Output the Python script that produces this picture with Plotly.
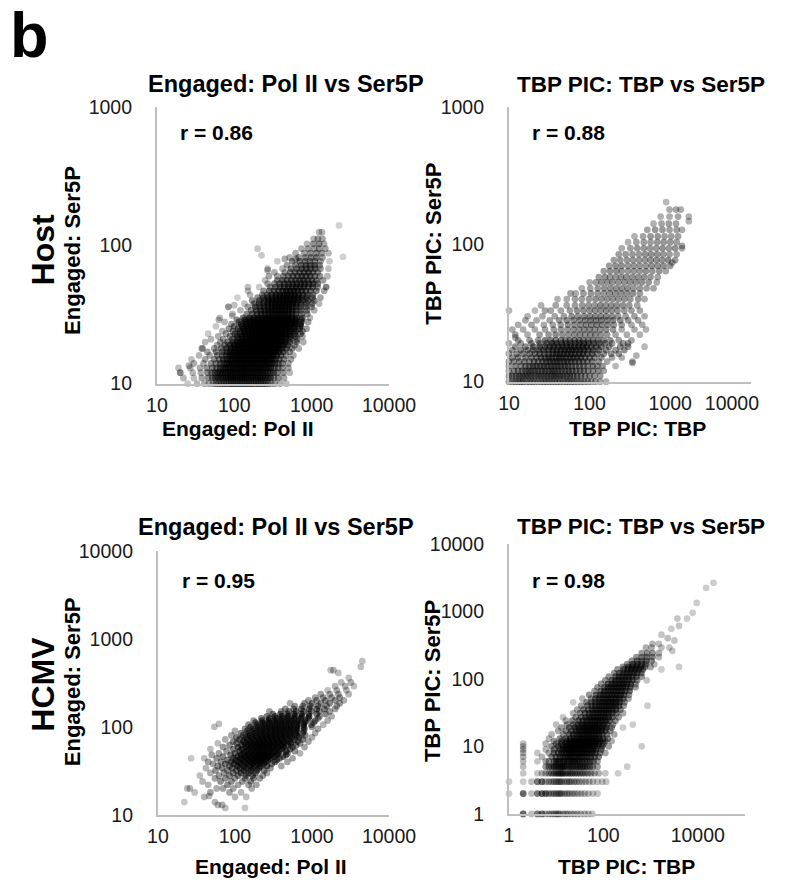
import numpy as np
import plotly.graph_objects as go

# Positions below are given in pixels of the final 794 x 884 picture; the page places the
# 808 x 880 figure inside the body margin and reduces it, so they are mapped back here.
FIG_W, FIG_H = 808, 880
FONT = "Liberation Sans, Arial, sans-serif"

# ---------------- Host: Engaged Pol II (x) vs Engaged Ser5P (y) ----------------
host_eng_levels = [10, 11, 12, 13, 14, 15, 16, 17, 18, 19, 20, 21, 22, 23, 24, 25, 26, 27, 28, 29,
                   30, 32, 34, 36, 38, 40, 42, 44, 47, 50, 53, 56, 60, 64, 68, 72, 77, 82, 88, 95,
                   103, 112, 125, 140]
host_eng_polii = [
    [25, 33, 41, 47, 53, 58, 63, 68, 73, 79, 85, 91, 97, 104, 111, 119, 127, 136, 145, 155, 166, 178, 191, 205, 220, 236, 254, 275, 300, 335, 390, 470],
    [22, 30, 38, 46, 52, 57, 62, 67, 72, 78, 84, 90, 96, 103, 110, 118, 126, 134, 143, 153, 164, 176, 189, 203, 218, 234, 252, 272, 296, 325, 370, 440],
    [20, 29, 37, 45, 51, 56, 61, 66, 71, 77, 83, 89, 95, 102, 109, 117, 125, 133, 142, 152, 163, 175, 188, 202, 217, 233, 251, 271, 295, 322, 360, 430, 520],
    [19, 27, 36, 44, 52, 59, 66, 72, 78, 84, 90, 97, 104, 112, 120, 128, 137, 147, 157, 168, 180, 193, 207, 222, 238, 256, 276, 300, 330, 370, 420, 500],
    [30, 40, 50, 58, 66, 73, 80, 87, 94, 101, 109, 117, 125, 134, 143, 153, 164, 175, 187, 200, 214, 229, 245, 263, 283, 306, 335, 372, 420, 500],
    [28, 42, 55, 64, 72, 80, 88, 95, 103, 111, 119, 128, 137, 146, 156, 167, 178, 190, 203, 217, 232, 248, 266, 286, 310, 340, 380, 440, 540],
    [35, 48, 60, 70, 79, 87, 95, 103, 111, 120, 129, 138, 148, 158, 169, 181, 194, 208, 223, 239, 256, 275, 297, 322, 355, 400, 470, 580],
    [45, 58, 70, 80, 89, 98, 107, 116, 125, 135, 145, 156, 167, 179, 192, 206, 221, 237, 254, 273, 294, 318, 346, 380, 430, 520],
    [38, 55, 68, 80, 91, 101, 111, 121, 131, 142, 153, 165, 178, 191, 205, 220, 236, 253, 272, 293, 316, 342, 372, 410, 470, 560, 680],
    [60, 75, 88, 100, 111, 122, 133, 144, 156, 169, 182, 196, 211, 227, 244, 262, 282, 304, 328, 355, 388, 430, 490, 600],
    [42, 66, 82, 96, 109, 121, 133, 145, 158, 172, 186, 201, 217, 234, 252, 272, 293, 316, 342, 372, 408, 455, 520, 640, 780],
    [50, 72, 95, 112, 128, 143, 158, 174, 190, 207, 225, 244, 265, 288, 313, 340, 372, 410, 460, 540, 650],
    [62, 88, 108, 125, 141, 157, 173, 190, 208, 227, 247, 268, 291, 316, 344, 376, 415, 465, 530, 620, 760],
    [46, 78, 102, 120, 137, 153, 169, 186, 204, 223, 243, 264, 287, 312, 340, 371, 408, 455, 515, 600, 720],
    [70, 96, 117, 135, 152, 169, 187, 206, 226, 247, 270, 294, 320, 349, 382, 420, 468, 530, 620, 760],
    [85, 112, 132, 150, 168, 186, 205, 225, 246, 268, 292, 318, 346, 378, 414, 458, 512, 590, 700, 860],
    [58, 100, 126, 146, 165, 184, 204, 225, 247, 270, 295, 322, 351, 384, 421, 465, 520, 600, 720],
    [92, 122, 144, 164, 184, 205, 227, 250, 274, 300, 328, 358, 392, 430, 476, 534, 610, 720],
    [75, 115, 140, 161, 182, 204, 227, 251, 276, 303, 332, 364, 399, 438, 484, 542, 620, 740, 900],
    [108, 136, 158, 180, 203, 227, 252, 278, 306, 336, 368, 403, 443, 490, 548, 625, 740],
    [65, 130, 156, 179, 203, 228, 254, 281, 310, 341, 374, 410, 451, 499, 558, 640, 760, 950],
    [95, 145, 172, 197, 223, 250, 278, 308, 340, 374, 411, 452, 500, 557, 630, 740, 880],
    [120, 165, 192, 219, 247, 276, 307, 340, 375, 413, 455, 503, 560, 632, 730, 870, 1080],
    [84, 150, 186, 214, 243, 273, 305, 339, 375, 414, 457, 505, 562, 630, 720, 850, 1000],
    [135, 180, 210, 240, 272, 305, 340, 377, 417, 461, 510, 568, 636, 725, 850, 1020, 1250],
    [170, 210, 243, 277, 312, 350, 390, 433, 480, 533, 595, 670, 770, 900, 1080],
    [110, 200, 235, 270, 306, 345, 386, 430, 478, 531, 592, 663, 750, 870, 1030, 1300],
    [160, 230, 268, 306, 346, 389, 435, 485, 540, 603, 676, 765, 880, 1040],
    [150, 240, 285, 328, 373, 421, 472, 528, 590, 660, 742, 842, 970, 1150, 1450],
    [210, 290, 340, 390, 443, 500, 562, 630, 707, 795, 900, 1030, 1200, 1540],
    [270, 330, 385, 442, 503, 568, 640, 720, 810, 915, 1040, 1200],
    [250, 360, 420, 482, 548, 620, 700, 790, 890, 1010, 1160, 1400],
    [280, 360, 430, 500, 575, 655, 745, 845, 960, 1100, 1280, 1600],
    [330, 450, 530, 610, 700, 800, 910, 1040, 1200],
    [270, 420, 540, 640, 740, 850, 970, 1110, 1300, 1650],
    [480, 620, 730, 840, 960, 1100, 1270],
    [360, 560, 700, 820, 950, 1100, 1300, 1700],
    [520, 680, 830, 980, 1150, 1380],
    [620, 800, 960, 1150, 1350, 1650],
    [200, 740, 900, 1080, 1250, 1500],
    [870, 1050, 1250, 1450],
    [1060, 1200, 1380],
    [1250, 1360],
    [2260],
]
host_eng_extra_polii = [225, 2540, 150, 100, 84, 63, 94, 39, 270, 450, 625, 1540, 26, 20]
host_eng_extra_ser5p = [85, 83, 50, 37, 36, 29, 31, 18, 66, 80, 80, 50, 13.5, 12]

# ---------------- Host: TBP PIC TBP (x) vs TBP PIC Ser5P (y) ----------------
host_tbp_levels = [10, 11, 12, 13, 14, 15, 16, 17, 18, 19, 20, 22, 24, 26, 28, 30, 33, 36, 40, 44,
                   48, 53, 58, 64, 70, 77, 85, 94, 104, 115, 128, 142, 160, 180, 204]
host_tbp_tbp = [
    [10, 11, 12, 13, 14, 15, 16.5, 18, 19.5, 21, 23, 25, 27, 29, 31.5, 34, 37, 40, 43, 47, 51, 55, 60, 65, 71, 78, 86, 95, 105, 118, 135, 160],
    [10, 11, 12.2, 13.4, 14.7, 16, 17.5, 19, 21, 23, 25, 27.5, 30, 33, 36, 39, 43, 47, 52, 57, 63, 70, 78, 88, 100, 115, 135],
    [10, 11.5, 13, 14.5, 16, 17.5, 19, 21, 23, 25.5, 28, 31, 34, 37, 41, 45, 50, 55, 61, 68, 76, 85, 96, 110, 128, 150],
    [10, 12, 14, 16, 18, 20, 22, 24.5, 27, 30, 33, 36.5, 40, 44, 49, 54, 60, 67, 75, 84, 95, 110, 125, 145, 210],
    [10, 11.5, 13.5, 15.5, 18, 20.5, 23, 26, 29, 32, 35.5, 39, 43, 48, 53, 59, 66, 74, 83, 94, 108, 130, 165, 340],
    [11, 13, 16, 19, 22, 25, 28, 31, 34, 38, 42, 46, 51, 57, 63, 70, 78, 88, 100, 115, 140, 190, 250],
    [10, 12.5, 15, 18, 21, 24, 27.5, 31, 35, 39, 43, 48, 53, 59, 66, 74, 83, 94, 108, 125, 150, 185, 230],
    [11, 14, 17, 20, 23.5, 27, 31, 35, 39, 44, 49, 55, 61, 68, 76, 85, 96, 110, 130, 160, 210, 270],
    [12, 16, 20, 24, 28, 32, 36, 41, 46, 52, 58, 65, 73, 82, 92, 105, 120, 140, 175, 240, 300],
    [10, 14, 19, 24, 29, 34, 39, 45, 51, 58, 66, 75, 85, 97, 112, 130, 155, 190, 260],
    [13, 18, 23, 28, 33, 38, 44, 50, 57, 65, 74, 84, 96, 110, 128, 150, 180, 230, 330],
    [12, 17, 24, 31, 38, 46, 55, 65, 76, 88, 102, 118, 138, 165, 210, 290, 420],
    [11, 15, 21, 28, 36, 44, 53, 63, 74, 86, 100, 116, 135, 160, 195, 250, 360, 500],
    [13, 19, 27, 35, 44, 54, 65, 77, 90, 105, 122, 142, 168, 200, 250, 330, 450],
    [16, 22, 32, 42, 52, 63, 75, 88, 103, 120, 140, 165, 195, 240, 300, 400],
    [17, 26, 37, 48, 60, 72, 86, 101, 118, 138, 161, 190, 225, 280, 360, 480],
    [10, 21, 28, 33, 44, 57, 70, 84, 100, 117, 137, 160, 188, 222, 270, 330, 420],
    [25, 38, 52, 66, 81, 97, 115, 135, 158, 185, 217, 258, 310, 390],
    [40, 52, 66, 80, 98, 118, 140, 165, 194, 228, 270, 320, 400, 480],
    [58, 67, 84, 104, 126, 150, 177, 208, 245, 290, 345, 420],
    [80, 102, 126, 152, 181, 214, 252, 296, 350, 420, 510, 620],
    [100, 120, 140, 165, 192, 228, 270, 318, 375, 445, 540, 680],
    [130, 155, 180, 210, 245, 285, 338, 400, 475, 570, 700],
    [150, 180, 215, 250, 300, 355, 420, 500, 600, 730, 880],
    [175, 210, 250, 300, 355, 420, 500, 590, 700, 830, 1000],
    [200, 240, 290, 345, 410, 485, 570, 670, 790, 940, 1150],
    [230, 280, 340, 410, 490, 580, 690, 820, 980, 1200],
    [250, 320, 390, 470, 560, 670, 800, 960, 1150, 1400],
    [300, 380, 470, 570, 690, 830, 1000, 1200],
    [360, 460, 570, 700, 850, 1030, 1250],
    [520, 650, 800, 980, 1200, 1400],
    [620, 780, 960, 1180],
    [760, 980, 1250, 1700],
    [980, 1180, 1350],
    [890],
]
host_tbp_extra_tbp = [12, 380, 340, 480, 300, 1700, 1400, 1060]
host_tbp_extra_ser5p = [21, 15.5, 13.7, 18, 19, 148, 98, 74]

# ---------------- HCMV: Engaged Pol II (x) vs Engaged Ser5P (y) ----------------
hcmv_eng_levels = [12, 13, 14, 16, 18, 20, 22, 24, 26, 28, 30, 32, 34, 36, 38, 40, 42, 44, 46, 48,
                   50, 53, 56, 59, 62, 65, 68, 72, 76, 80, 85, 90, 95, 100, 106, 112, 118, 125, 132, 140,
                   150, 160, 172, 185, 200, 215, 235, 260, 290, 320, 360, 410, 440, 480, 560]
hcmv_eng_polii = [
    [75, 135],
    [60, 68],
    [22, 55],
    [40, 100, 140],
    [30, 48, 85, 120],
    [26, 58, 70, 95, 165],
    [45, 80, 110, 150, 190],
    [38, 65, 90, 125, 160],
    [55, 75, 100, 135, 175, 210],
    [35, 62, 85, 110, 140, 170, 230],
    [48, 72, 95, 120, 150, 185, 260],
    [56, 80, 105, 130, 160, 195, 240],
    [42, 68, 92, 115, 140, 170, 205, 290],
    [60, 85, 108, 130, 155, 180, 215, 260, 400],
    [52, 75, 98, 120, 145, 170, 200, 235, 300],
    [45, 66, 90, 112, 135, 160, 185, 215, 250, 330, 480],
    [80, 102, 125, 150, 175, 200, 230, 270, 350],
    [40, 58, 95, 118, 140, 165, 190, 218, 250, 290, 380, 560],
    [70, 108, 132, 155, 180, 205, 235, 270, 320, 420],
    [50, 88, 120, 145, 170, 195, 222, 255, 295, 350, 460],
    [62, 100, 130, 155, 180, 205, 232, 265, 305, 360, 480, 700],
    [78, 115, 140, 165, 190, 215, 245, 280, 320, 375, 460, 600],
    [48, 95, 125, 150, 175, 200, 228, 260, 300, 345, 410, 520],
    [70, 110, 138, 162, 187, 213, 242, 275, 315, 365, 430, 560, 800],
    [85, 122, 148, 173, 200, 228, 260, 298, 345, 400, 480, 620],
    [60, 105, 135, 160, 186, 213, 243, 278, 320, 370, 435, 530, 700],
    [95, 128, 155, 182, 210, 240, 275, 316, 365, 425, 510, 650, 900],
    [75, 115, 145, 172, 200, 230, 264, 304, 350, 405, 480, 590, 760],
    [105, 138, 165, 194, 224, 258, 297, 342, 395, 460, 550, 680, 1000],
    [90, 128, 158, 188, 220, 254, 293, 338, 390, 452, 530, 640, 820],
    [120, 152, 183, 215, 250, 290, 335, 388, 450, 525, 620, 760, 1100],
    [100, 145, 178, 212, 248, 288, 334, 388, 452, 530, 630, 780],
    [135, 172, 208, 246, 288, 336, 392, 458, 538, 640, 800, 1200],
    [160, 200, 240, 283, 332, 388, 455, 535, 635, 780, 1000],
    [150, 195, 236, 280, 330, 388, 456, 538, 640, 780, 980, 1400],
    [185, 230, 276, 328, 388, 458, 543, 650, 800, 1050],
    [175, 225, 275, 330, 392, 465, 555, 670, 830, 1100, 1600],
    [220, 280, 340, 408, 490, 590, 720, 900, 1200],
    [260, 330, 405, 490, 600, 740, 920, 1250, 1800],
    [310, 390, 480, 590, 730, 910, 1150, 1500],
    [280, 400, 500, 620, 780, 980, 1250, 1700],
    [450, 580, 730, 920, 1150, 1450, 2000],
    [600, 760, 950, 1200, 1550, 2100],
    [520, 800, 1000, 1300, 1700, 2300],
    [900, 1150, 1500, 2000, 2600],
    [1100, 1400, 1800, 2300],
    [1300, 1700, 2200, 3000],
    [1600, 2100, 2800],
    [2000, 2700, 3500],
    [2400, 3200],
    [3000],
    [2200],
    [1750, 1900],
    [4300],
    [4500],
]
hcmv_eng_extra_polii = [62, 54, 27, 46, 24]
hcmv_eng_extra_ser5p = [108, 100, 44, 16.4, 20]

# ---------------- HCMV: TBP PIC TBP (x) vs TBP PIC Ser5P (y) ----------------
hcmv_tbp_levels = [1, 2, 3, 4, 5, 6, 7, 8, 9, 10, 11, 12, 13, 15, 17, 19, 21, 24, 27, 31,
                   35, 40, 45, 51, 58, 66, 75, 84, 95, 108, 122, 138, 150, 165, 185, 210, 240, 260, 290, 330,
                   370, 400, 450, 550, 610, 780, 950, 1330, 2230, 2640]
hcmv_tbp_tbp = [
    [2, 2, 2, 3, 4, 4, 5, 5, 6, 7, 8, 9, 10, 11, 12, 14, 16, 18, 21, 24, 28, 33, 40, 48, 58],
    [1, 2, 2, 2, 3, 4, 4, 5, 5, 6, 6, 7, 8, 9, 10, 11, 12, 13, 15, 17, 19, 22, 25, 29, 34, 40, 48, 60, 75],
    [1, 2, 3, 4, 4, 5, 5, 6, 7, 8, 9, 10, 11, 12, 13, 15, 17, 19, 21, 24, 27, 31, 36, 42, 50, 60, 75, 95, 115],
    [2, 4, 5, 6, 7, 8, 9, 10, 11, 12, 13, 14, 16, 18, 20, 22, 25, 28, 32, 36, 41, 47, 55, 65, 80, 110, 205],
    [2, 6, 7, 8, 9, 10, 11, 12, 13, 14, 15, 17, 19, 21, 23, 26, 29, 32, 36, 40, 45, 52, 60, 75, 320],
    [2, 4, 6, 7, 9, 10, 11, 12, 14, 15, 17, 19, 21, 23, 25, 28, 31, 35, 40, 46, 53, 62, 75],
    [2, 5, 8, 10, 12, 14, 16, 18, 20, 22, 25, 28, 31, 35, 40, 46, 54, 65, 80],
    [2, 4, 7, 9, 11, 13, 15, 17, 19, 21, 23, 26, 29, 32, 36, 40, 45, 51, 58, 68, 85, 110],
    [2, 6, 9, 12, 14, 16, 18, 20, 22, 24, 27, 30, 33, 37, 41, 46, 52, 60, 70, 90],
    [2, 8, 11, 14, 16, 18, 20, 22, 24, 27, 30, 33, 36, 40, 45, 50, 56, 64, 75, 95, 130, 650],
    [2, 6, 10, 13, 16, 19, 22, 25, 28, 31, 34, 38, 42, 47, 53, 60, 68, 80, 100],
    [9, 13, 17, 20, 23, 26, 29, 32, 36, 40, 45, 50, 56, 63, 72, 85, 110, 150],
    [7, 12, 16, 20, 24, 28, 32, 36, 40, 45, 50, 56, 63, 71, 82, 98, 125],
    [8, 14, 19, 23, 27, 31, 35, 39, 44, 49, 55, 62, 70, 80, 95, 120, 170],
    [11, 16, 21, 26, 31, 35, 40, 45, 50, 56, 63, 71, 80, 92, 110, 140],
    [13, 19, 25, 30, 35, 40, 45, 51, 57, 64, 72, 82, 95, 115, 150, 260],
    [10, 17, 23, 29, 35, 40, 46, 52, 59, 66, 75, 86, 100, 120, 160, 420],
    [16, 22, 30, 37, 44, 51, 58, 66, 75, 85, 97, 112, 135, 180],
    [14, 26, 34, 42, 50, 58, 66, 75, 85, 97, 110, 128, 155, 210],
    [23, 32, 41, 50, 59, 68, 78, 89, 101, 115, 132, 155, 190, 260],
    [28, 38, 48, 58, 68, 79, 90, 103, 117, 134, 155, 185, 230],
    [34, 46, 57, 68, 80, 92, 106, 121, 138, 158, 182, 215, 270, 860],
    [23, 44, 56, 68, 81, 94, 108, 124, 142, 162, 186, 220, 280],
    [36, 55, 68, 82, 96, 111, 127, 145, 166, 190, 220, 265, 340],
    [50, 70, 85, 100, 116, 134, 154, 176, 200, 232, 275, 350],
    [65, 88, 105, 123, 142, 163, 187, 214, 246, 290, 360],
    [75, 105, 125, 146, 169, 195, 224, 258, 300, 370, 480],
    [90, 125, 150, 175, 203, 234, 270, 315, 380, 480],
    [110, 150, 180, 212, 248, 290, 340, 410, 520, 830],
    [130, 180, 215, 252, 295, 345, 410, 500, 650],
    [170, 220, 265, 312, 368, 435, 520, 640],
    [200, 270, 330, 395, 470, 560, 680, 1700],
    [260, 340, 410, 500, 620, 760, 1000, 4000],
    [320, 420, 520, 650, 800, 1200],
    [400, 520, 650, 820, 1050],
    [500, 650, 830, 1100, 1500],
    [650, 850, 1100, 1500],
    [2900],
    [800, 1050, 1700, 2500],
    [1100, 1500],
    [3200],
    [2300],
    [1700],
    [2750],
    [4000],
    [3700, 5900],
    [7800],
    [9500],
    [15000],
    [21500],
]


def flatten(levels, rows, extra_x=(), extra_y=()):
    xs, ys = [], []
    for level, row in zip(levels, rows):
        xs.extend(row)
        ys.extend([level] * len(row))
    xs.extend(extra_x)
    ys.extend(extra_y)
    return xs, ys


def px_x(v):
    return (157 + 1.058 * (v - 159)) / FIG_W


def px_y(v):
    return 1 - (101 + (v - 109) / 0.9744) / FIG_H


def overlap_alpha(xs, ys, x_px_per_dec, y_px_per_dec, base, gain, cap, radius=8.0):
    """Darken markers where many fall on top of each other (screen-space neighbour count)."""
    lx = np.log10(np.asarray(xs, float)) * x_px_per_dec
    ly = np.log10(np.asarray(ys, float)) * y_px_per_dec
    d2 = (lx[:, None] - lx[None, :]) ** 2 + (ly[:, None] - ly[None, :]) ** 2
    n = (d2 < radius ** 2).sum(axis=1) - 1
    return np.clip(base + gain * n, base, cap).tolist()


def tick_text(values, pad_last=0):
    labels = [str(v) for v in values]
    if pad_last:
        labels[-1] = labels[-1] + "&nbsp;" * pad_last
    return labels


panels = [
    # suffix, data, alpha (base, gain, cap), x span px, y span px, x range, y range, x ticks, y ticks, pad
    ("", flatten(host_eng_levels, host_eng_polii, host_eng_extra_polii, host_eng_extra_ser5p),
     (0.18, 0.035, 0.75), (159, 395), (107, 383), (1, 4), (1, 3),
     [10, 100, 1000, 10000], [10, 100, 1000], 0),
    ("2", flatten(host_tbp_levels, host_tbp_tbp, host_tbp_extra_tbp, host_tbp_extra_ser5p),
     (0.28, 0.025, 0.6), (517, 763), (107, 381), (1, 4), (1, 3),
     [10, 100, 1000, 10000], [10, 100, 1000], 7),
    ("3", flatten(hcmv_eng_levels, hcmv_eng_polii, hcmv_eng_extra_polii, hcmv_eng_extra_ser5p),
     (0.22, 0.035, 0.65), (160, 395), (550, 814), (1, 4), (1, 4),
     [10, 100, 1000, 10000], [10, 100, 1000, 10000], 0),
    ("4", flatten(hcmv_tbp_levels, hcmv_tbp_tbp),
     (0.2, 0.03, 0.6), (517, 757), (543, 813), (0, 5), (0, 4),
     [1, 100, 10000], [1, 10, 100, 1000, 10000], 0),
]

fig = go.Figure()
layout_axes = {}
for suffix, (xs, ys), (a0, ag, amax), xspan, yspan, xr, yr, xt, yt, pad in panels:
    x_scale = (xspan[1] - xspan[0]) / (xr[1] - xr[0])
    y_scale = (yspan[1] - yspan[0]) / (yr[1] - yr[0])
    alphas = overlap_alpha(xs, ys, x_scale, y_scale, a0, ag, amax)
    fig.add_trace(go.Scatter(
        x=xs, y=ys, mode="markers",
        xaxis="x" + suffix, yaxis="y" + suffix,
        marker=dict(size=6.7, color="black", opacity=alphas, line=dict(width=0)),
        cliponaxis=False, showlegend=False, hoverinfo="skip",
    ))
    common = dict(type="log", showgrid=False, zeroline=False, showline=True,
                  linecolor="#bfbfbf", linewidth=2, ticks="", ticklabeloverflow="allow",
                  tickfont=dict(family=FONT, size=19.5, color="#1a1a1a"))
    layout_axes["xaxis" + suffix] = dict(
        common, domain=[px_x(xspan[0]), px_x(xspan[1])], range=list(xr),
        anchor="y" + suffix, tickmode="array", tickvals=xt, ticktext=tick_text(xt, pad),
        ticklabelstandoff=3)
    layout_axes["yaxis" + suffix] = dict(
        common, domain=[px_y(yspan[1]), px_y(yspan[0])], range=list(yr),
        anchor="x" + suffix, tickmode="array", tickvals=yt, ticktext=tick_text(yt),
        ticklabelstandoff=19)

annotations = []


def label(text, x, y, size, bold=True, angle=0, xanchor="center"):
    annotations.append(dict(
        text=f"<b>{text}</b>" if bold else text,
        x=px_x(x), y=px_y(y), xref="paper", yref="paper",
        xanchor=xanchor, yanchor="middle", showarrow=False, textangle=angle,
        font=dict(family=FONT, size=size, color="black"),
    ))


label("b", 29, 35, 63)
label("Host", 43, 249, 32, angle=-90)
label("HCMV", 43, 683, 32, angle=-90)

label("Engaged: Pol II vs Ser5P", 290, 84, 23.5)
label("TBP PIC: TBP vs Ser5P", 651, 84, 22.5)
label("Engaged: Pol II vs Ser5P", 280, 526, 23.5)
label("TBP PIC: TBP vs Ser5P", 651, 526, 22.5)

label("Engaged: Ser5P", 73, 250, 22, angle=-90)
label("TBP PIC: Ser5P", 440, 243, 22, angle=-90)
label("Engaged: Ser5P", 73, 681, 22, angle=-90)
label("TBP PIC: Ser5P", 440, 680, 22, angle=-90)

label("Engaged: Pol II", 241, 428, 21)
label("TBP PIC: TBP", 648, 428, 21)
label("Engaged: Pol II", 275, 866, 21)
label("TBP PIC: TBP", 637, 866, 21)

label("r = 0.86", 180, 132, 21, xanchor="left")
label("r = 0.88", 538, 132, 21, xanchor="left")
label("r = 0.95", 182, 580, 21, xanchor="left")
label("r = 0.98", 538, 580, 21, xanchor="left")

fig.update_layout(
    width=FIG_W, height=FIG_H, autosize=False,
    margin=dict(l=0, r=0, t=0, b=0),
    paper_bgcolor="white", plot_bgcolor="white",
    font=dict(family=FONT),
    annotations=annotations,
    **layout_axes,
)

fig.write_html("out.html")
